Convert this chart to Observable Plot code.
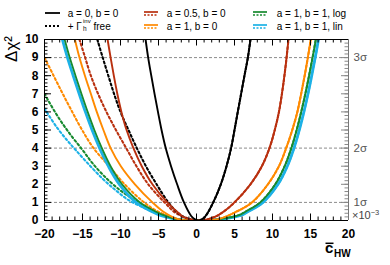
<!DOCTYPE html>
<html><head><meta charset="utf-8">
<script src="https://cdn.jsdelivr.net/npm/d3@7"></script>
<script src="https://cdn.jsdelivr.net/npm/@observablehq/plot@0.6"></script>
<style>html,body{margin:0;padding:0;background:#fff}</style>
</head><body><div id="chart"></div>
<script>
// ---------- data ----------
const xTicks = [-20, -15, -10, -5, 0, 5, 10, 15, 20];
const yTicks = [0, 1, 2, 3, 4, 5, 6, 7, 8, 9, 10];
const xMinorTicks = d3.range(-20, 20.001, 1);
const yMinorTicks = d3.range(0, 10.001, 0.2);
const sigmaLevels = [1, 4, 9];
const sigmaLabels = ["1σ", "2σ", "3σ"];
const legendLabels = ["a = 0, b = 0", "+ Γ", "a = 0.5, b = 0", "a = 1, b = 0", "a = 1, b = 1, log", "a = 1, b = 1, lin"];

// a = 0, b = 0 (solid)
const blackX = [-6.7,-6.36,-5.95,-5.52,-5.07,-4.6,-4.05,-3.35,-2.55,-1.65,-0.7,-0.2,0.25,0.7,1.2,2.2,3.2,3.95,4.55,5.0,5.43,5.87,6.31,6.76,7.1];
const blackY = [10,9,8,7,6,5,4,3,2,1,0.25,0.06,0,0.06,0.25,1,2,3,4,5,6,7,8,9,10];
// + Gamma free (left branch; right branch coincides with solid)
const blackFreeX = [-13.05,-12.34,-11.6,-10.85,-10.0,-8.95,-7.85,-6.65,-5.25,-3.7,-2.54,-1.2,0.25];
const blackFreeY = [10,9,8,7,6,5,4,3,2,1,0.46,0.09,0];

// a = 0.5, b = 0
const redX = [-11.7,-11.3,-10.88,-10.42,-9.88,-9.2,-8.3,-7.2,-5.8,-3.85,-2.6,-1.67,0.25,2.3,3.6,5.0,7.1,8.6,9.6,10.3,10.85,11.24,11.57,11.85,12.1];
const redY = [10,9,8,7,6,5,4,3,2,1,0.5,0.18,0,0.18,0.5,1,2,3,4,5,6,7,8,9,10];
const redFreeX = [-15.4,-14.65,-13.9,-12.95,-11.85,-10.6,-9.25,-7.9,-6.35,-4.2,-2.54,0.25];
const redFreeY = [10,9,8,7,6,5,4,3,2,1,0.37,0];

// a = 1, b = 0
const orangeX = [-16.0,-15.4,-14.68,-13.9,-13.12,-12.25,-11.3,-9.95,-8.1,-5.8,-4.4,-2.54,0.25,3.0,5.3,7.3,9.4,10.85,11.8,12.6,13.27,13.77,14.23,14.65,15.03];
const orangeY = [10,9,8,7,6,5,4,3,2,1,0.5,0.09,0,0.09,0.5,1,2,3,4,5,6,7,8,9,10];
const orangeFreeX = [-20,-18.8,-17.6,-16.35,-15.05,-13.55,-11.5,-9.45,-6.9,-5.1,-2.54,0.25];
const orangeFreeY = [9,8,7,6,5,4,3,2,1,0.5,0.09,0];

// a = 1, b = 1, log
const greenX = [-17.35,-16.68,-15.92,-15.14,-14.32,-13.44,-12.45,-11.3,-9.8,-7.45,-5.4,-4.25,-2.5,0.2,2.8,5.5,6.5,8.4,10.37,11.6,12.48,13.18,13.78,14.32,14.81,15.27,15.7];
const greenY = [10,9,8,7,6,5,4,3,2,1,0.5,0.28,0.06,0,0.06,0.28,0.5,1,2,3,4,5,6,7,8,9,10];
const greenFreeX = [-20,-19.4,-18.1,-16.6,-15.0,-13.66,-11.9,-10.14,-8.7,-6.9,-5.0,-2.5,0.2];
const greenFreeY = [7.0,6.55,5.65,4.75,3.9,3.15,2.35,1.7,1.28,0.82,0.42,0.08,0];

// a = 1, b = 1, lin
const cyanX = [-17.65,-16.98,-16.22,-15.44,-14.62,-13.74,-12.75,-11.6,-10.15,-7.95,-5.9,-4.74,-2.1,0.2,2.5,5.8,6.8,8.74,10.72,11.95,12.83,13.53,14.13,14.67,15.16,15.62,16.05];
const cyanY = [10,9,8,7,6,5,4,3,2,1,0.5,0.28,0.04,0,0.04,0.28,0.5,1,2,3,4,5,6,7,8,9,10];
const cyanFreeX = [-20,-19.6,-18.3,-17.0,-15.87,-14.4,-12.34,-10.6,-8.9,-7.0,-5.0,-2.5,0.2];
const cyanFreeY = [6.2,5.92,5.1,4.42,3.88,3.2,2.3,1.66,1.12,0.72,0.36,0.06,0];

// ---------- styling ----------
const COL = {black: "#000000", red: "#b9300f", orange: "#ff8a00", green: "#178a2f", cyan: "#1cb1e6"};
const W = 390, H = 265, mL = 44, mR = 42, mT = 39, mB = 45;
const innerW = W - mL - mR, innerH = H - mT - mB;

function pts(xs, ys) { return xs.map((x, i) => ({x, y: ys[i]})); }
function freeFull(fx, fy, sx, sy) {
  const last = fx[fx.length - 1];
  const rx = [], ry = [];
  sx.forEach((x, i) => { if (x > last) { rx.push(x); ry.push(sy[i]); } });
  return pts(fx.concat(rx), fy.concat(ry));
}

const dotted = [
  {d: freeFull(cyanFreeX, cyanFreeY, cyanX, cyanY), c: COL.cyan},
  {d: freeFull(greenFreeX, greenFreeY, greenX, greenY), c: COL.green},
  {d: freeFull(orangeFreeX, orangeFreeY, orangeX, orangeY), c: COL.orange},
  {d: freeFull(redFreeX, redFreeY, redX, redY), c: COL.red},
  {d: freeFull(blackFreeX, blackFreeY, blackX, blackY), c: COL.black}
];
const solid = [
  {d: pts(cyanX, cyanY), c: COL.cyan, w: 2.8},
  {d: pts(greenX, greenY), c: COL.green, w: 1.8},
  {d: pts(orangeX, orangeY), c: COL.orange, w: 1.9},
  {d: pts(redX, redY), c: COL.red, w: 1.9},
  {d: pts(blackX, blackY), c: COL.black, w: 1.9}
];

const plot = Plot.plot({
  width: W, height: H,
  marginLeft: mL, marginRight: mR, marginTop: mT, marginBottom: mB,
  style: {fontFamily: "'Liberation Sans', Arial, Helvetica, sans-serif", background: "white", color: "black"},
  x: {domain: [-20, 20]},
  y: {domain: [0, 10]},
  marks: [
    Plot.ruleY(sigmaLevels, {stroke: "#8c8c8c", strokeWidth: 1, strokeDasharray: "3,2"}),
    ...dotted.map(s => Plot.line(s.d, {x: "x", y: "y", stroke: s.c, strokeWidth: 2.1, strokeDasharray: "2,2.6", curve: "catmull-rom", clip: true})),
    ...solid.map(s => Plot.line(s.d, {x: "x", y: "y", stroke: s.c, strokeWidth: s.w, curve: "catmull-rom", clip: true})),
    // inward ticks
    Plot.tickY(yMinorTicks, {insetRight: innerW - 3.5, stroke: "black"}),
    Plot.tickY(yTicks, {insetRight: innerW - 7, stroke: "black"}),
    Plot.tickY(yMinorTicks, {insetLeft: innerW - 3.5, stroke: "#888"}),
    Plot.tickY(yTicks, {insetLeft: innerW - 7, stroke: "#888"}),
    Plot.tickX(xMinorTicks, {insetTop: innerH - 3.5, stroke: "black"}),
    Plot.tickX(xTicks, {insetTop: innerH - 6.5, stroke: "black"}),
    Plot.tickX(xMinorTicks, {insetBottom: innerH - 3.5, stroke: "black"}),
    Plot.tickX(xTicks, {insetBottom: innerH - 6.5, stroke: "black"}),
    // frame
    Plot.ruleY([0, 10], {stroke: "black", strokeWidth: 1}),
    Plot.ruleX([-20], {stroke: "black", strokeWidth: 1}),
    Plot.ruleX([20], {stroke: "#777", strokeWidth: 1}),
    // axes labels
    Plot.axisX({ticks: xTicks, tickSize: 0, tickPadding: 9, fontSize: 12, fontWeight: "bold", label: null}),
    Plot.axisY({ticks: yTicks, tickSize: 0, tickPadding: 6, fontSize: 12, fontWeight: "bold", label: null}),
    Plot.axisY({anchor: "right", ticks: sigmaLevels, tickSize: 0, tickPadding: 5, fontSize: 11.5, color: "#555",
      tickFormat: d => sigmaLabels[sigmaLevels.indexOf(d)], label: null})
  ]
});

document.getElementById("chart").appendChild(plot);

// ---------- extra texts & legend ----------
const svg = d3.select(plot);
const FF = "'Liberation Sans', Arial, Helvetica, sans-serif";

// y title
svg.append("text")
  .attr("transform", "translate(16.5,36) rotate(-90)")
  .attr("text-anchor", "end")
  .style("font-family", FF).style("font-size", "17px")
  .text("Δχ²");

// x title: c-bar HW
svg.append("text").attr("x", 325).attr("y", 253).attr("text-anchor", "start")
  .style("font-family", FF).style("font-size", "15px").style("font-weight", "bold").text("c");
svg.append("line").attr("x1", 325.5).attr("x2", 333.5).attr("y1", 243.3).attr("y2", 243.3)
  .attr("stroke", "black").attr("stroke-width", 1.5);
svg.append("text").attr("x", 334).attr("y", 257).attr("text-anchor", "start")
  .style("font-family", FF).style("font-size", "10px").style("font-weight", "bold").text("HW");

// x10^-3
const ex = svg.append("text").attr("x", 352).attr("y", 218.5).attr("text-anchor", "start")
  .style("font-family", FF).style("font-size", "11px").attr("fill", "#444");
ex.append("tspan").text("×10");
ex.append("tspan").attr("dy", -4).style("font-size", "7.5px").text("−3");

// legend
const colLineX = [45, 144, 253], colTextX = [67.7, 166.7, 276.7], rowY = [13, 26];
const legend = svg.append("g").attr("text-anchor", "start").style("font-family", FF).style("font-size", "10px");
const entries = [
  {label: legendLabels[0], c: COL.black, kind: "solid", col: 0, row: 0},
  {label: legendLabels[1], c: COL.black, kind: "dot", col: 0, row: 1},
  {label: legendLabels[2], c: COL.red, kind: "both", col: 1, row: 0},
  {label: legendLabels[3], c: COL.orange, kind: "both", col: 1, row: 1},
  {label: legendLabels[4], c: COL.green, kind: "both", col: 2, row: 0},
  {label: legendLabels[5], c: COL.cyan, kind: "both", col: 2, row: 1}
];
entries.forEach(e => {
  const x0 = colLineX[e.col], y = rowY[e.row];
  if (e.kind === "solid") {
    legend.append("line").attr("x1", x0).attr("x2", x0 + 15).attr("y1", y).attr("y2", y)
      .attr("stroke", e.c).attr("stroke-width", 1.8);
  } else if (e.kind === "dot") {
    legend.append("line").attr("x1", x0).attr("x2", x0 + 15).attr("y1", y).attr("y2", y)
      .attr("stroke", e.c).attr("stroke-width", 1.8).attr("stroke-dasharray", "2,2");
  } else {
    legend.append("line").attr("x1", x0).attr("x2", x0 + 14).attr("y1", y - 1).attr("y2", y - 1)
      .attr("stroke", e.c).attr("stroke-width", 1.7);
    legend.append("line").attr("x1", x0).attr("x2", x0 + 14).attr("y1", y + 2).attr("y2", y + 2)
      .attr("stroke", e.c).attr("stroke-width", 1.4).attr("stroke-dasharray", "2,1.5");
  }
  legend.append("text").attr("x", colTextX[e.col]).attr("y", y).attr("dy", "0.35em").text(e.label);
});
// Gamma sub/superscripts and "free"
legend.append("text").attr("x", 83).attr("y", rowY[1] - 3.5).style("font-size", "6px").text("inv");
legend.append("text").attr("x", 83).attr("y", rowY[1] + 5).style("font-size", "6.5px").text("h");
legend.append("text").attr("x", 93.5).attr("y", rowY[1]).attr("dy", "0.35em").text("free");
</script>
</body></html>
